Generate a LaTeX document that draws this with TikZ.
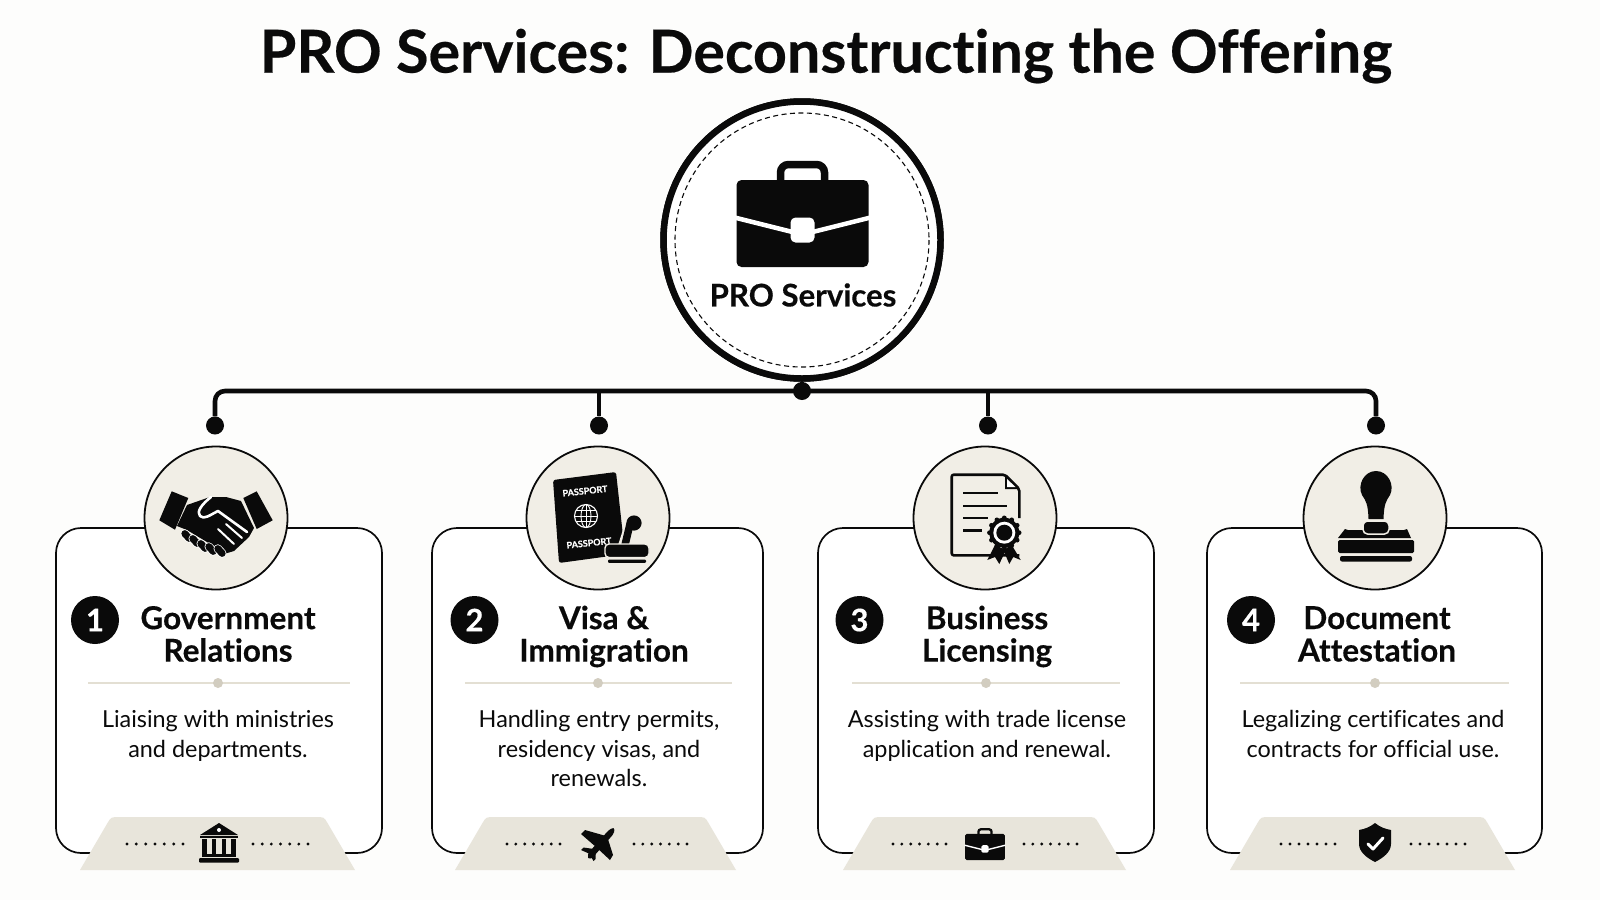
\documentclass[tikz,border=0pt]{standalone}
\usepackage{fontspec}
\setmainfont{Lato}[Ligatures=NoCommon,BoldFeatures={FakeBold=0.35}]
\definecolor{bgc}{HTML}{FDFDFC}
\definecolor{circfill}{HTML}{F1EEE6}
\definecolor{trapfill}{HTML}{E8E5DB}
\definecolor{divline}{HTML}{E3DFD3}
\definecolor{divdot}{HTML}{D2CDC0}
\definecolor{ink}{HTML}{0A0A0A}
\tikzset{
  card/.style={draw=ink,line width=1.7pt,rounded corners=25pt,fill=white,inner sep=0pt,minimum height=325pt},
  iconcirc/.style={circle,draw=ink,line width=1.8pt,fill=circfill,minimum size=143pt,inner sep=0pt},
  badge/.style={circle,fill=ink,text=white,minimum size=48pt,inner sep=0pt,font=\fontsize{31}{31}\selectfont\bfseries},
  heading/.style={align=center,text=ink,inner sep=0pt,font=\fontsize{31.5}{32.5}\selectfont\bfseries},
  desc/.style={align=center,text=ink,inner sep=0pt,font=\fontsize{23.4}{29.5}\selectfont},
  junction/.style={circle,fill=ink,minimum size=18pt,inner sep=0pt},
  bus/.style={draw=ink,line width=4.6pt},
  divider/.style={draw=divline,line width=2.2pt},
  hubring/.style={circle,draw=ink,line width=6.5pt,fill=white,minimum size=277pt,inner sep=0pt},
}
\newcommand{\trapz}[2]{%
  \fill[trapfill] (#1,870) -- ({#1+27.5},823) .. controls ({#1+31},817) .. ({#1+40},817)
    -- ({#2-40},817) .. controls ({#2-31},817) .. ({#2-27.5},823) -- (#2,870) -- cycle;}
\newcommand{\dotrow}[2]{%
  \foreach \i in {0,...,6}{\fill[ink] ({#1+\i*(#2-#1)/6},844) circle (1.6);}}
\newcommand{\carddiv}[3]{%
  \draw[divider] (#1,683) -- (#2,683);
  \fill[divdot] (#3,683) circle (5);}
\newcommand{\brief}[3]{%
  \begin{scope}[shift={(#1,#2)},scale=#3]
    \draw[ink,line width=#3*7.5pt,rounded corners=#3*8pt] (-22,-42) -- (-22,-59) -- (22,-59) -- (22,-42);
    \fill[ink,rounded corners=#3*5pt] (-66,-43.5) rectangle (66,43.5);
    \draw[white,line width=#3*4.5pt] (-68,-6) -- (0,11) -- (68,-6);
    \fill[white,rounded corners=#3*5pt] (-12,-6) rectangle (12,19);
  \end{scope}}
\begin{document}
\begin{tikzpicture}[x=1pt,y=-1pt]
\useasboundingbox (0,0) rectangle (1600,900);
\fill[bgc] (0,0) rectangle (1600,900);

% title
\node[inner sep=0pt,text=ink,font=\fontsize{59.2}{60}\selectfont\bfseries] (title) at (826,56) {PRO Services: Deconstructing the Offering};

% connectors
\node[hubring] (hub) at (802,240) {};
\node[junction] (hubdot) at (802,391) {};
\node[junction] (drop1) at (215,425.5) {};
\node[junction] (drop2) at (599,425.5) {};
\node[junction] (drop3) at (988,425.5) {};
\node[junction] (drop4) at (1376,425.5) {};
\draw[bus,rounded corners=10pt] (drop1) -- (drop1 |- hubdot) -- (drop4 |- hubdot) -- (drop4);
\draw[bus] (drop2) -- (drop2 |- hubdot);
\draw[bus] (drop3) -- (drop3 |- hubdot);
\draw[bus] (hub) -- (hubdot);
\node[hubring] (hubtop) at (802,240) {};
\draw[ink,line width=1.1pt,dash pattern=on 5pt off 3.5pt] (802,240) circle (127);
\brief{802.5}{223.5}{1}
\node[inner sep=0pt,text=ink,font=\fontsize{31.2}{31}\selectfont\bfseries] (hublabel) at (803,295) {PRO Services};

% cards
\node[card,minimum width=326pt] (card1) at (219,690.5) {};
\node[card,minimum width=331pt] (card2) at (597.5,690.5) {};
\node[card,minimum width=336pt] (card3) at (986,690.5) {};
\node[card,minimum width=335pt] (card4) at (1374.5,690.5) {};

\trapz{80}{355}
\trapz{455}{736}
\trapz{843}{1126}
\trapz{1230}{1515}

\node[iconcirc] (ic1) at (216,518) {};
\node[iconcirc] (ic2) at (598,518) {};
\node[iconcirc] (ic3) at (985,518) {};
\node[iconcirc] (ic4) at (1375,518) {};

\node[badge] (b1) at (95,620) {1};
\node[badge] (b2) at (474.5,620) {2};
\node[badge] (b3) at (859.5,620) {3};
\node[badge] (b4) at (1251,620) {4};

\node[heading] (h1) at (228,634) {Government\\Relations};
\node[heading] (h2) at (604,636.5) {Visa \&\\Immigration};
\node[heading] (h3) at (987,636.5) {Business\\Licensing};
\node[heading] (h4) at (1377,634) {Document\\Attestation};

\carddiv{88}{350}{218}
\carddiv{465}{732}{598}
\carddiv{852}{1120}{986}
\carddiv{1240}{1509}{1375}

\node[desc,anchor=north] (d1) at (218,710.5) {Liaising with ministries\\and departments.};
\node[desc,anchor=north] (d2) at (599,710.5) {Handling entry permits,\\residency visas, and\\renewals.};
\node[desc,anchor=north] (d3) at (987,710.5) {Assisting with trade license\\application and renewal.};
\node[desc,anchor=north] (d4) at (1373,710.5) {Legalizing certificates and\\contracts for official use.};

\dotrow{127}{183}\dotrow{253}{308}
\dotrow{507}{560}\dotrow{634}{687}
\dotrow{893}{946}\dotrow{1024}{1077}
\dotrow{1281}{1335}\dotrow{1411}{1465}

% handshake
\begin{scope}[shift={(216,518)}]
  \fill[ink] (-44.3,-26.7) -- (-27.7,-20) -- (-41,11.7) -- (-56.7,2.3) -- cycle;
  \fill[ink] (40.7,-26.7) -- (56.7,2.3) -- (40.7,11) -- (27.3,-20) -- cycle;
  \fill[ink] (-29,-13) -- (-6,-21) -- (10,-21) -- (25,-17) -- (38,10) -- (33,19) -- (18,33) -- (8,36) -- (0,30) -- (-9,24) -- (-19,18) -- (-29,12) -- (-39,8) -- cycle;
  \draw[white,line width=2.6pt,line cap=round,line join=round] (-5,-21) .. controls (-14,-14) and (-20,-6) .. (-16,-2) .. controls (-12,2) and (-6,-3) .. (2,-7) -- (31,14);
  \draw[white,line width=2pt,line cap=round] (2,11) -- (18,26);
  \draw[white,line width=2pt,line cap=round] (10,6) -- (26,20);
  \foreach \cx/\cy in {-29/18,-21/23,-13/28,-5/31,4/33}{
    \draw[white,line width=8.6pt,line cap=round] ({\cx-2.2},{\cy-2.4}) -- ({\cx+2.2},{\cy+2.4});
    \draw[ink,line width=7pt,line cap=round] ({\cx-2.2},{\cy-2.4}) -- ({\cx+2.2},{\cy+2.4});}
\end{scope}

% passport
\begin{scope}[shift={(598,518)}]
  \fill[ink,rounded corners=2.5pt] (-45,-38) -- (18,-46) -- (27,36) -- (-39,45) -- cycle;
  \node[rotate=6,text=white,inner sep=0pt,font=\fontsize{9}{9}\selectfont\bfseries] (pp1) at (-13,-27) {PASSPORT};
  \node[rotate=6,text=white,inner sep=0pt,font=\fontsize{9}{9}\selectfont\bfseries] (pp2) at (-9,25) {PASSPORT};
  \begin{scope}[shift={(-12,-2)}]
    \draw[white,line width=1.1pt] (0,0) circle (11.5);
    \draw[white,line width=0.9pt] (0,0) ellipse (5 and 11.5);
    \draw[white,line width=0.9pt] (0,-11.5) -- (0,11.5) (-11.5,0) -- (11.5,0) (-10,-5.5) -- (10,-5.5) (-10,5.5) -- (10,5.5);
  \end{scope}
  \draw[circfill,line width=10pt] (32,6) -- (25,28);
  \draw[ink,line width=7.5pt,line cap=round] (32,6) -- (27,27);
  \fill[ink] (36,5) circle (7.6);
  \fill[ink,draw=circfill,line width=1.4pt,rounded corners=4pt] (7,26) rectangle (51,39.5);
  \fill[ink,rounded corners=1pt] (10,41.5) rectangle (48,44.8);
\end{scope}

% certificate
\begin{scope}[shift={(985,518)}]
  \draw[ink,line width=2.6pt,line join=round,rounded corners=2pt] (34.3,37.3) -- (-33.3,37.3) -- (-33.3,-43.3) -- (20,-43.3) -- (34.3,-29) -- (34.3,0);
  \fill[ink] (20,-43.3) -- (20,-29) -- (34.3,-29) -- cycle;
  \fill[white] (22,-39) -- (22,-31) -- (30.5,-31) -- cycle;
  \draw[ink,line width=2.8pt] (-22,-25) -- (13,-25) (-22,-12) -- (22,-12) (-22,0) -- (3,0) (-22,12.3) -- (-3,12.3);
  \fill[circfill] (19.3,14.7) circle (19);
  \fill[ink] (10,27) -- (2.3,42) -- (10,39) -- (14.3,46) -- (21,32) -- cycle;
  \fill[ink] (26.7,27) -- (35.7,42) -- (28.3,39) -- (24.3,46) -- (18.3,32) -- cycle;
  \fill[ink] (19.3,14.7) circle (15);
  \foreach \a in {0,30,...,330}{\fill[ink] ({19.3+14.8*cos(\a)},{14.7+14.8*sin(\a)}) circle (2.4);}
  \fill[white] (19.3,14.7) circle (11);
  \fill[ink] (19.3,14.7) circle (8);
\end{scope}

% stamp
\begin{scope}[shift={(1375,518)}]
  \fill[ink] (-6.5,1) .. controls (-7,-14) and (-9,-17) .. (-13,-23) .. controls (-18,-33) and (-11,-47) .. (1,-47) .. controls (13,-47) and (20,-33) .. (15,-23) .. controls (11,-17) and (9,-14) .. (8.5,1) -- cycle;
  \fill[ink] (-30,11) -- (-27,12) -- (29,12) -- (32,11) -- (36,20) -- (-37,20) -- cycle;
  \fill[ink,draw=circfill,line width=1.5pt,rounded corners=4.5pt] (-12,3) rectangle (14,16);
  \fill[ink,rounded corners=1.5pt] (-37,22) rectangle (39,35);
  \fill[ink,rounded corners=2pt] (-35,38) rectangle (37,43.5);
\end{scope}

% bank
\begin{scope}[shift={(219,843)}]
  \fill[ink] (0,-20) -- (19,-8) -- (-19,-8) -- cycle;
  \fill[white] (0,-13) circle (2);
  \fill[ink] (-19,-7) rectangle (19,-5);
  \foreach \cx in {-14.5,-5,5,14.5}{\fill[ink] ({\cx-2.3},-4) rectangle ({\cx+2.3},11);}
  \fill[ink] (-17,11) rectangle (17,14);
  \fill[ink,rounded corners=1pt] (-20,15) rectangle (20,19.5);
\end{scope}

% plane
\begin{scope}[shift={(599,844)}]
  \fill[ink] (14.5,-16) .. controls (16.5,-14) and (15,-10) .. (11,-6) -- (-5,12) .. controls (-7,15) and (-10,15) .. (-11,14) .. controls (-12,12) and (-11,9) .. (-8,6) -- (8,-12) .. controls (11,-15) and (13,-16) .. (14.5,-16) -- cycle;
  \fill[ink] (-18,-10) -- (-14,-14) -- (7,-8) -- (-3,3) -- cycle;
  \fill[ink] (11,16) -- (14,11) -- (8,-8) -- (-3,3) -- cycle;
  \fill[ink] (-18,6) -- (-15.5,3.5) -- (-5,5) -- (-9,10) -- cycle;
  \fill[ink] (-5.5,17) -- (-3.5,15) -- (-3,5) -- (-9,11) -- cycle;
\end{scope}

\brief{985}{847}{0.3}

% shield
\begin{scope}[shift={(1375,842)}]
  \fill[ink] (0,-19) .. controls (5,-15) and (10,-13) .. (16,-12) -- (16,2) .. controls (16,10) and (8,16) .. (0,20) .. controls (-8,16) and (-16,10) .. (-16,2) -- (-16,-12) .. controls (-10,-13) and (-5,-15) .. (0,-19) -- cycle;
  \draw[white,line width=3pt,line cap=round,line join=round] (-7,2) -- (-2,7) -- (8,-4);
\end{scope}
\end{tikzpicture}
\end{document}
